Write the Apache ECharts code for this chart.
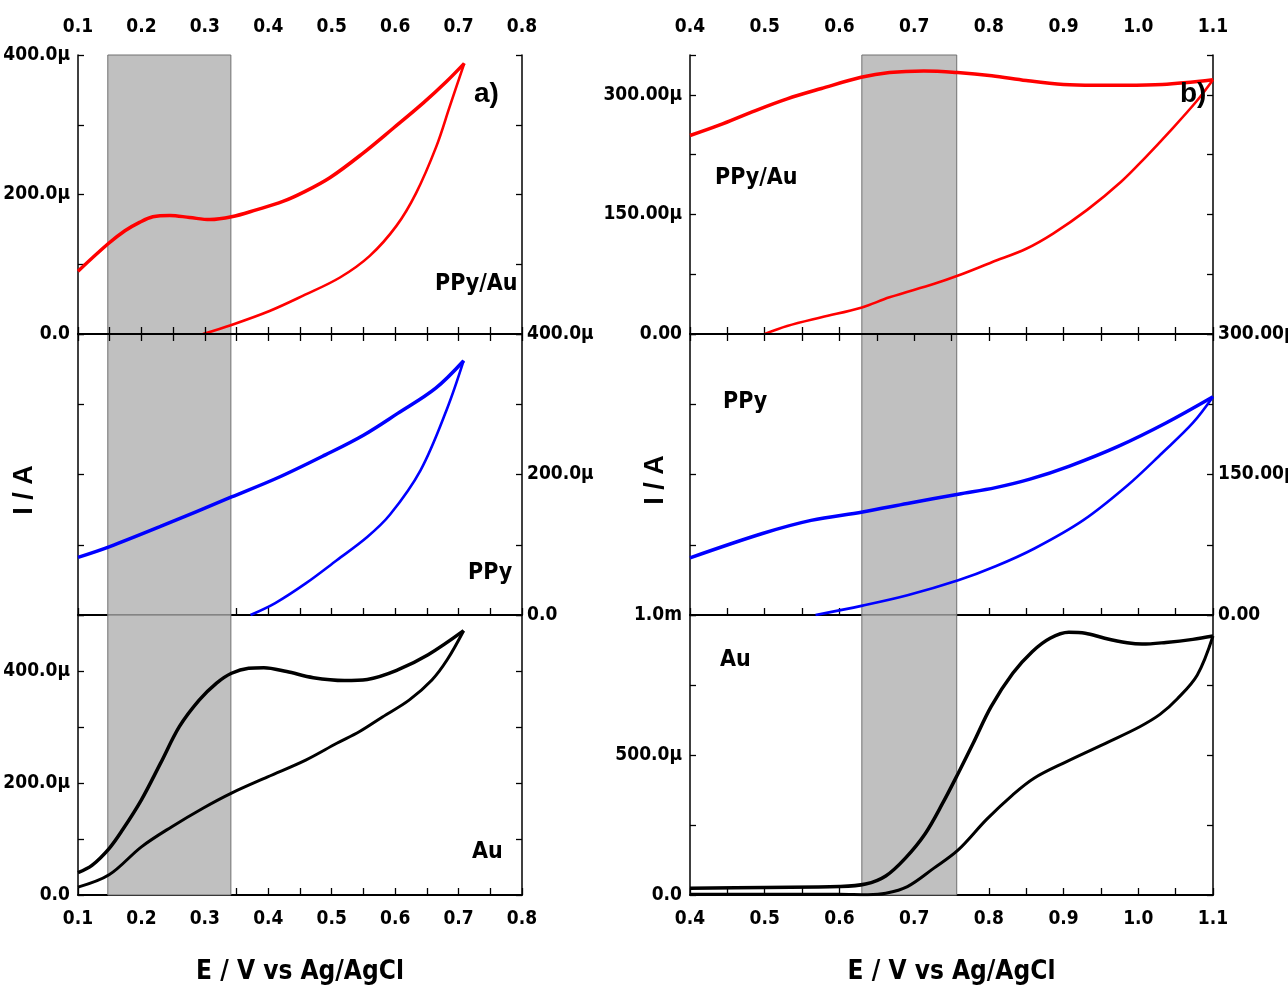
<!DOCTYPE html>
<html>
<head>
<meta charset="utf-8">
<script src="https://cdn.jsdelivr.net/npm/echarts@6/dist/echarts.min.js"></script>
<style>html,body{margin:0;padding:0;background:#fff;}#c{width:1288px;height:991px;}</style>
</head>
<body>
<div id="c"></div>
<script>
// ---- Data (E in V vs Ag/AgCl, I in µA) ----
// Panel a)
const aPPyAuUp   = [[0.1,90],[0.147,129],[0.174,148],[0.197,160],[0.218,168],[0.245,170],[0.276,167],[0.308,164],[0.342,168],[0.381,178],[0.423,190],[0.455,203],[0.497,224],[0.549,259],[0.597,295],[0.644,331],[0.681,362],[0.709,388]];
const aPPyAuDown = [[0.297,0],[0.342,13],[0.402,33],[0.455,55],[0.513,81],[0.560,112],[0.602,155],[0.633,202],[0.665,269],[0.686,326],[0.709,388]];
const aPPyUp     = [[0.1,82],[0.149,97],[0.230,126],[0.342,168],[0.414,195],[0.490,228],[0.550,256],[0.604,287],[0.664,323],[0.708,362]];
const aPPyDown   = [[0.372,0],[0.411,17],[0.459,45],[0.508,78],[0.556,111],[0.592,143],[0.640,206],[0.682,294],[0.708,362]];
const aAuUp      = [[0.1,40],[0.122,53],[0.149,83],[0.170,116],[0.200,170],[0.230,235],[0.260,301],[0.291,348],[0.318,378],[0.342,396],[0.369,405],[0.393,406],[0.429,399],[0.471,388],[0.520,383],[0.556,385],[0.604,402],[0.652,429],[0.708,472]];
const aAuDown    = [[0.1,14],[0.149,36],[0.200,86],[0.248,122],[0.297,155],[0.342,182],[0.399,211],[0.459,241],[0.508,271],[0.544,292],[0.580,318],[0.622,348],[0.658,384],[0.682,420],[0.708,472]];
// Panel b)
const bPPyAuUp   = [[0.4,249],[0.439,262],[0.484,279],[0.530,295],[0.576,308],[0.629,322],[0.667,328],[0.713,330],[0.758,328],[0.804,324],[0.850,318],[0.900,313],[0.941,312],[0.982,312],[1.032,313],[1.1,319]];
const bPPyAuDown = [[0.5,0],[0.530,10],[0.576,21],[0.629,33],[0.667,46],[0.727,63],[0.758,73],[0.804,90],[0.850,107],[0.886,126],[0.932,156],[0.977,191],[1.010,222],[1.041,253],[1.078,292],[1.1,319]];
const bPPyUp     = [[0.4,61],[0.497,87],[0.562,101],[0.631,110],[0.691,119],[0.759,129],[0.809,136],[0.855,145],[0.908,159],[0.973,180],[1.037,205],[1.1,233]];
const bPPyDown   = [[0.568,0],[0.631,10],[0.691,21],[0.759,37],[0.809,52],[0.861,71],[0.926,101],[0.985,138],[1.032,173],[1.073,205],[1.1,233]];
const bAuUp      = [[0.4,24],[0.5,27],[0.6,30],[0.635,39],[0.662,68],[0.688,131],[0.715,220],[0.738,327],[0.759,435],[0.779,542],[0.803,673],[0.832,792],[0.858,869],[0.882,917],[0.907,938],[0.929,935],[0.955,917],[0.985,901],[1.005,896],[1.037,902],[1.073,913],[1.1,925]];
const bAuDown    = [[0.4,3],[0.6,3],[0.638,1],[0.662,6],[0.691,30],[0.726,95],[0.759,161],[0.797,270],[0.832,358],[0.861,418],[0.902,474],[0.961,548],[1.002,601],[1.029,645],[1.052,700],[1.079,786],[1.1,925]];

// shaded potential windows
const shadeA = [0.147, 0.341];
const shadeB = [0.630, 0.757];

// axis ranges / ticks
const xRangeA = [0.1, 0.8];
const xRangeB = [0.4, 1.1];
const yRanges = [[0,400,100],[0,400,100],[0,500,100],[0,350,75],[0,300,75],[0,1000,250]];
const yLabelVals = [[0,200,400],[0,200,400],[0,200,400],[0,150,300],[0,150,300],[0,500,1000]];

const panelNames = ['PPy/Au','PPy','Au','PPy/Au','PPy','Au'];

// ---- Chart ----
const NARROW = "'Liberation Sans Narrow','Arial Narrow','DejaVu Sans Condensed',sans-serif";
const WIDE = "'Liberation Sans','Arial',sans-serif";
const chart = echarts.init(document.getElementById('c'));

const gridBase = {containLabel: false, outerBoundsMode: 'none'};
const grids = [
  {left:78, top:55, width:444, height:279},
  {left:78, top:334, width:444, height:281},
  {left:78, top:615, width:444, height:280},
  {left:690, top:55, width:523, height:279},
  {left:690, top:334, width:523, height:281},
  {left:690, top:615, width:523, height:280}
].map(g => Object.assign({}, gridBase, g));

function fmtY(panel, v) {
  v = Math.round(v);
  if (yLabelVals[panel].indexOf(v) < 0) return '';
  if (v === 0) return (panel === 3 || panel === 4) ? '0.00' : '0.0';
  if (panel === 5 && v === 1000) return '1.0m';
  if (panel === 3 || panel === 4) return v.toFixed(2) + 'μ';
  return v.toFixed(1) + 'μ';
}

const tickLabel = {fontFamily: NARROW, fontWeight: 'bold', fontSize: 19, color: '#000'};

const xAxes = [];
const yAxes = [];
for (let i = 0; i < 6; i++) {
  const r = i < 3 ? xRangeA : xRangeB;
  const showLab = (i === 2 || i === 5);
  xAxes.push({
    type: 'value', gridIndex: i, position: 'bottom', min: r[0], max: r[1], interval: 0.1,
    z: i === 0 ? 10 : 0,
    axisLine: {show: true, lineStyle: {color: '#000', width: 2}},
    axisTick: {show: true, inside: true, length: 7, lineStyle: {color: '#000', width: 1.3}},
    minorTick: {show: true, splitNumber: 2, length: 7, lineStyle: {color: '#000', width: 1.3}},
    splitLine: {show: false},
    axisLabel: Object.assign({show: showLab, margin: 15, formatter: v => v.toFixed(1)}, tickLabel),
    name: showLab ? 'E / V vs Ag/AgCl' : '',
    nameLocation: 'middle', nameGap: 64,
    nameTextStyle: {fontFamily: NARROW, fontWeight: 'bold', fontSize: 26, color: '#000'}
  });
}
[0, 3].forEach(i => {
  const r = i < 3 ? xRangeA : xRangeB;
  xAxes.push({
    type: 'value', gridIndex: i, position: 'top', min: r[0], max: r[1], interval: 0.1, z: 10,
    axisLine: {show: true, lineStyle: {color: '#000', width: 2}},
    axisTick: {show: true, inside: true, length: 7, lineStyle: {color: '#000', width: 1.3}},
    minorTick: {show: true, splitNumber: 2, length: 7, lineStyle: {color: '#000', width: 1.3}},
    splitLine: {show: false},
    axisLabel: Object.assign({show: true, margin: 18, formatter: v => v.toFixed(1)}, tickLabel)
  });
});
for (let i = 0; i < 6; i++) {
  const yr = yRanges[i];
  const rightLab = (i === 1 || i === 4);
  ['left', 'right'].forEach(pos => {
    const showLab = (pos === 'left') !== rightLab;
    yAxes.push({
      type: 'value', gridIndex: i, position: pos, min: yr[0], max: yr[1], interval: yr[2],
      axisLine: {show: true, lineStyle: {color: '#000', width: 1.5}},
      axisTick: {show: true, inside: true, length: 6, lineStyle: {color: '#000', width: 1.3}},
      splitLine: {show: false},
      axisLabel: Object.assign({show: showLab, margin: pos === 'left' ? 8 : 5,
        showMaxLabel: true, formatter: v => fmtY(i, v)}, tickLabel)
    });
  });
}

function lineSeries(idx, data, color, width, shade) {
  const s = {
    type: 'line', xAxisIndex: idx, yAxisIndex: idx * 2, data: data,
    showSymbol: false, smooth: 0.35, silent: true,
    lineStyle: {color: color, width: width}, z: 3
  };
  if (shade) {
    s.markArea = {silent: true,
      itemStyle: {color: '#c0c0c0', borderColor: '#707070', borderWidth: 1},
      data: [[{xAxis: shade[0]}, {xAxis: shade[1]}]]};
  }
  return s;
}

const series = [
  lineSeries(0, aPPyAuUp, '#ff0000', 3.5, shadeA),
  lineSeries(0, aPPyAuDown, '#ff0000', 2.6),
  lineSeries(1, aPPyUp, '#0000ff', 3.5, shadeA),
  lineSeries(1, aPPyDown, '#0000ff', 2.6),
  lineSeries(2, aAuUp, '#000000', 3.5, shadeA),
  lineSeries(2, aAuDown, '#000000', 3),
  lineSeries(3, bPPyAuUp, '#ff0000', 3.5, shadeB),
  lineSeries(3, bPPyAuDown, '#ff0000', 2.6),
  lineSeries(4, bPPyUp, '#0000ff', 3.5, shadeB),
  lineSeries(4, bPPyDown, '#0000ff', 2.6),
  lineSeries(5, bAuUp, '#000000', 3.5, shadeB),
  lineSeries(5, bAuDown, '#000000', 3)
];

const lblStyle = (txt, x, y, size, fam) => ({
  type: 'text', x: x, y: y, z: 10,
  style: {text: txt, fontFamily: fam || NARROW, fontWeight: 'bold', fontSize: size || 23,
    fill: '#000', textAlign: 'left', textVerticalAlign: 'middle'}
});

const graphic = [
  lblStyle('a)', 474, 94, 28, WIDE),
  lblStyle('b)', 1180, 94, 28, WIDE),
  lblStyle(panelNames[0], 435, 284),
  lblStyle(panelNames[1], 468, 573),
  lblStyle(panelNames[2], 472, 852),
  lblStyle(panelNames[3], 715, 178),
  lblStyle(panelNames[4], 723, 402),
  lblStyle(panelNames[5], 720, 660),
  {type: 'text', x: 25, y: 490, rotation: Math.PI / 2, z: 10,
   style: {text: 'I / A', fontFamily: WIDE, fontWeight: 'bold', fontSize: 27, fill: '#000',
     textAlign: 'center', textVerticalAlign: 'middle'}},
  {type: 'text', x: 656, y: 480, rotation: Math.PI / 2, z: 10,
   style: {text: 'I / A', fontFamily: WIDE, fontWeight: 'bold', fontSize: 27, fill: '#000',
     textAlign: 'center', textVerticalAlign: 'middle'}}
];

chart.setOption({
  animation: false,
  backgroundColor: '#fff',
  grid: grids,
  xAxis: xAxes,
  yAxis: yAxes,
  series: series,
  graphic: graphic
});
</script>
</body>
</html>
